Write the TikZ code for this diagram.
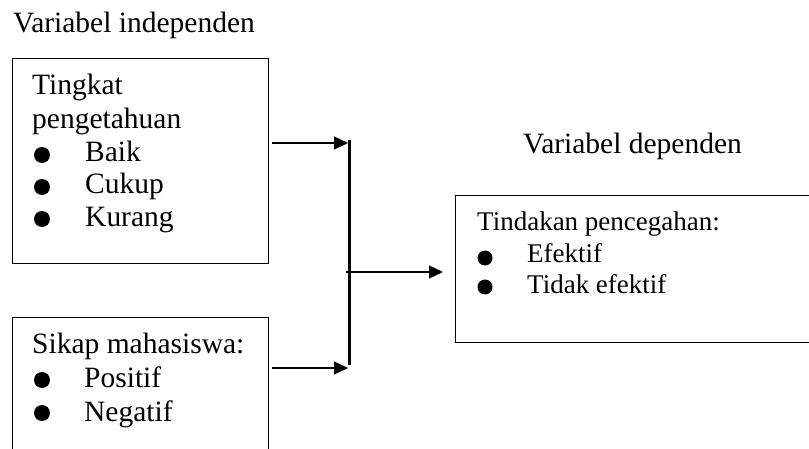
\documentclass[tikz,border=0pt]{standalone}
\usepackage{fontspec}
\setmainfont{Liberation Serif}
\usetikzlibrary{arrows.meta}
\tikzset{
  box/.style={draw, line width=1.3pt, rectangle, inner sep=0pt, anchor=north west},
  txt/.style={anchor=base west, inner sep=0pt, font=\fontsize{29.5}{35}\selectfont},
  txts/.style={anchor=base west, inner sep=0pt, font=\fontsize{27}{32}\selectfont},
  conn/.style={line width=1.3pt, -{Triangle[length=14pt,width=13pt]}},
  barline/.style={line width=3pt},
  bul/.style={fill=black}
}
\begin{document}
\begin{tikzpicture}[x=1pt,y=-1pt]
\clip (0,0) rectangle (809,449);
\useasboundingbox (0,0) rectangle (809,449);
% titles
\node[txt] (t1) at (13,33) {Variabel independen};
\node[txt] (t2) at (523,154) {Variabel dependen};
% box 1
\node[box, minimum width=256pt, minimum height=205pt] (b1) at (12,58) {};
\node[txt] (b1l1) at (32,95) {Tingkat};
\node[txt] (b1l2) at (32,129) {pengetahuan};
\fill[bul] (42,155) circle (8pt);
\fill[bul] (42,187) circle (8pt);
\fill[bul] (42,219) circle (8pt);
\node[txt] (b1i1) at (85,162) {Baik};
\node[txt] (b1i2) at (85,194) {Cukup};
\node[txt] (b1i3) at (85,227) {Kurang};
% box 2
\node[box, minimum width=256pt, minimum height=160pt] (b2) at (12,317) {};
\node[txt] (b2l1) at (32,353) {Sikap mahasiswa:};
\fill[bul] (42,380) circle (8pt);
\fill[bul] (42,413) circle (8pt);
\node[txt] (b2i1) at (84,387) {Positif};
\node[txt] (b2i2) at (84,421) {Negatif};
% box 3
\node[box, minimum width=380pt, minimum height=147pt] (b3) at (455,195) {};
\node[txts] (b3l1) at (477,231) {Tindakan pencegahan:};
\fill[bul] (485,258) circle (7.5pt);
\fill[bul] (485,287) circle (7.5pt);
\node[txts] (b3i1) at (527,263) {Efektif};
\node[txts] (b3i2) at (527,294) {Tidak efektif};
% connectors
\coordinate (bt) at (349,140);
\coordinate (bb) at (349,365);
\draw[barline] (bt) -- (bb);
\coordinate (a1s) at (272,143);
\coordinate (a1e) at (348,143);
\coordinate (a2s) at (272,368);
\coordinate (a2e) at (348,368);
\coordinate (a3s) at (346,272);
\coordinate (a3e) at (443,272);
\draw[conn] (a1s) -- (a1e);
\draw[conn] (a2s) -- (a2e);
\draw[conn] (a3s) -- (a3e);
\end{tikzpicture}
\end{document}
